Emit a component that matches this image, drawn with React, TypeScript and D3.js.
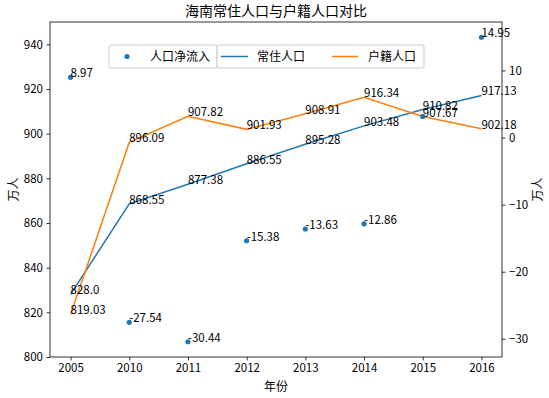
import React, { useEffect, useRef } from "react";
import * as d3 from "d3";

const years = ["2005", "2010", "2011", "2012", "2013", "2014", "2015", "2016"];
const resident = [828.0, 868.55, 877.38, 886.55, 895.28, 903.48, 910.82, 917.13];
const registered = [819.03, 896.09, 907.82, 901.93, 908.91, 916.34, 907.67, 902.18];
const netInflow = [8.97, -27.54, -30.44, -15.38, -13.63, -12.86, 3.15, 14.95];
// the 2015 net inflow value has no text label in the original
const netLabelShown = [true, true, true, true, true, true, false, true];
const leftTicks = [800, 820, 840, 860, 880, 900, 920, 940];
const rightTicks = [-30, -20, -10, 0, 10];

const FONT = "'Noto Sans CJK SC', 'Noto Sans', sans-serif";

const App = () => {
  const ref = useRef<SVGSVGElement>(null);

  useEffect(() => {
    const width = 549,
      height = 398;
    const left = 50,
      right = 502,
      top = 22,
      bottom = 357;

    const svg = d3.select(ref.current);
    svg.selectAll("*").remove();
    svg.attr("width", width).attr("height", height).style("font-family", FONT);

    svg.append("rect").attr("width", width).attr("height", height).attr("fill", "white");

    const x = d3.scaleLinear().domain([-0.35, years.length - 1 + 0.35]).range([left, right]);
    const yL = d3.scaleLinear().domain([800, 950]).range([bottom, top]);
    const yR = d3
      .scaleLinear()
      .domain([d3.min(netInflow)! - 2.27, d3.max(netInflow)! + 2.27])
      .range([bottom, top]);

    // axes
    const xAxis = svg
      .append("g")
      .attr("transform", `translate(0,${bottom})`)
      .call(
        d3
          .axisBottom(x)
          .tickValues(d3.range(years.length))
          .tickFormat((d) => years[d as number])
          .tickSize(3.5)
          .tickPadding(3.5)
      );
    const yAxisL = svg
      .append("g")
      .attr("transform", `translate(${left},0)`)
      .call(d3.axisLeft(yL).tickValues(leftTicks).tickSize(3.5).tickPadding(3.5));
    const yAxisR = svg
      .append("g")
      .attr("transform", `translate(${right},0)`)
      .call(
        d3
          .axisRight(yR)
          .tickValues(rightTicks)
          .tickFormat((d) => String(d).replace("-", "\u2212"))
          .tickSize(3.5)
          .tickPadding(3.5)
      );
    [xAxis, yAxisL, yAxisR].forEach((g) => {
      g.select(".domain").remove();
      g.selectAll("line").attr("stroke", "black").attr("stroke-width", 0.8);
      g.selectAll("text")
        .attr("fill", "black")
        .style("font-size", "11.5px")
        .style("font-family", FONT);
    });

    // frame
    svg
      .append("rect")
      .attr("x", left)
      .attr("y", top)
      .attr("width", right - left)
      .attr("height", bottom - top)
      .attr("fill", "none")
      .attr("stroke", "black")
      .attr("stroke-width", 0.8);

    // lines
    const line = d3
      .line<number>()
      .x((d, i) => x(i))
      .y((d) => yL(d));

    svg
      .append("path")
      .datum(resident)
      .attr("d", line)
      .attr("fill", "none")
      .attr("stroke", "#1f77b4")
      .attr("stroke-width", 1.5);
    svg
      .append("path")
      .datum(registered)
      .attr("d", line)
      .attr("fill", "none")
      .attr("stroke", "#ff7f0e")
      .attr("stroke-width", 1.5);

    const labelStyle = (sel: any) =>
      sel.attr("fill", "black").style("font-size", "11.5px").style("font-family", FONT);

    svg
      .selectAll("text.res")
      .data(resident)
      .join("text")
      .attr("class", "res")
      .attr("x", (d, i) => x(i))
      .attr("y", (d) => yL(d))
      .text((d) => (Number.isInteger(d) ? d.toFixed(1) : String(d)))
      .call(labelStyle);
    svg
      .selectAll("text.reg")
      .data(registered)
      .join("text")
      .attr("class", "reg")
      .attr("x", (d, i) => x(i))
      .attr("y", (d) => yL(d))
      .text((d) => String(d))
      .call(labelStyle);

    // scatter on right axis
    svg
      .selectAll("circle.net")
      .data(netInflow)
      .join("circle")
      .attr("class", "net")
      .attr("cx", (d, i) => x(i))
      .attr("cy", (d) => yR(d))
      .attr("r", 2.6)
      .attr("fill", "#1f77b4");
    svg
      .selectAll("text.net")
      .data(netInflow.map((v, i) => ({ v, i })).filter((d) => netLabelShown[d.i]))
      .join("text")
      .attr("class", "net")
      .attr("x", (d) => x(d.i))
      .attr("y", (d) => yR(d.v))
      .text((d) => String(d.v))
      .call(labelStyle);

    // titles
    svg
      .append("text")
      .attr("x", (left + right) / 2)
      .attr("y", 16)
      .attr("text-anchor", "middle")
      .style("font-size", "14px")
      .text("海南常住人口与户籍人口对比");
    svg
      .append("text")
      .attr("x", (left + right) / 2)
      .attr("y", 391)
      .attr("text-anchor", "middle")
      .style("font-size", "12px")
      .text("年份");
    svg
      .append("text")
      .attr("transform", `translate(18,${(top + bottom) / 2}) rotate(-90)`)
      .attr("text-anchor", "middle")
      .style("font-size", "12px")
      .text("万人");
    svg
      .append("text")
      .attr("transform", `translate(542,${(top + bottom) / 2}) rotate(-90)`)
      .attr("text-anchor", "middle")
      .style("font-size", "12px")
      .text("万人");

    // legends (two boxes: right-axis scatter, left-axis lines)
    const lg = svg.append("g");
    lg.append("rect")
      .attr("x", 109)
      .attr("y", 45)
      .attr("width", 108)
      .attr("height", 23)
      .attr("rx", 2)
      .attr("fill", "white")
      .attr("fill-opacity", 0.8)
      .attr("stroke", "#cccccc");
    lg.append("rect")
      .attr("x", 217)
      .attr("y", 45)
      .attr("width", 207)
      .attr("height", 23)
      .attr("rx", 2)
      .attr("fill", "white")
      .attr("fill-opacity", 0.8)
      .attr("stroke", "#cccccc");
    lg.append("circle").attr("cx", 127).attr("cy", 56.5).attr("r", 2.6).attr("fill", "#1f77b4");
    lg.append("text").attr("x", 150).attr("y", 61).style("font-size", "12px").text("人口净流入");
    lg.append("line")
      .attr("x1", 221)
      .attr("x2", 248)
      .attr("y1", 56.5)
      .attr("y2", 56.5)
      .attr("stroke", "#1f77b4")
      .attr("stroke-width", 1.5);
    lg.append("text").attr("x", 257).attr("y", 61).style("font-size", "12px").text("常住人口");
    lg.append("line")
      .attr("x1", 332)
      .attr("x2", 358)
      .attr("y1", 56.5)
      .attr("y2", 56.5)
      .attr("stroke", "#ff7f0e")
      .attr("stroke-width", 1.5);
    lg.append("text").attr("x", 368).attr("y", 61).style("font-size", "12px").text("户籍人口");
  }, []);

  return <svg ref={ref} style={{ position: "absolute", left: 0, top: 0 }}></svg>;
};

export default App;
